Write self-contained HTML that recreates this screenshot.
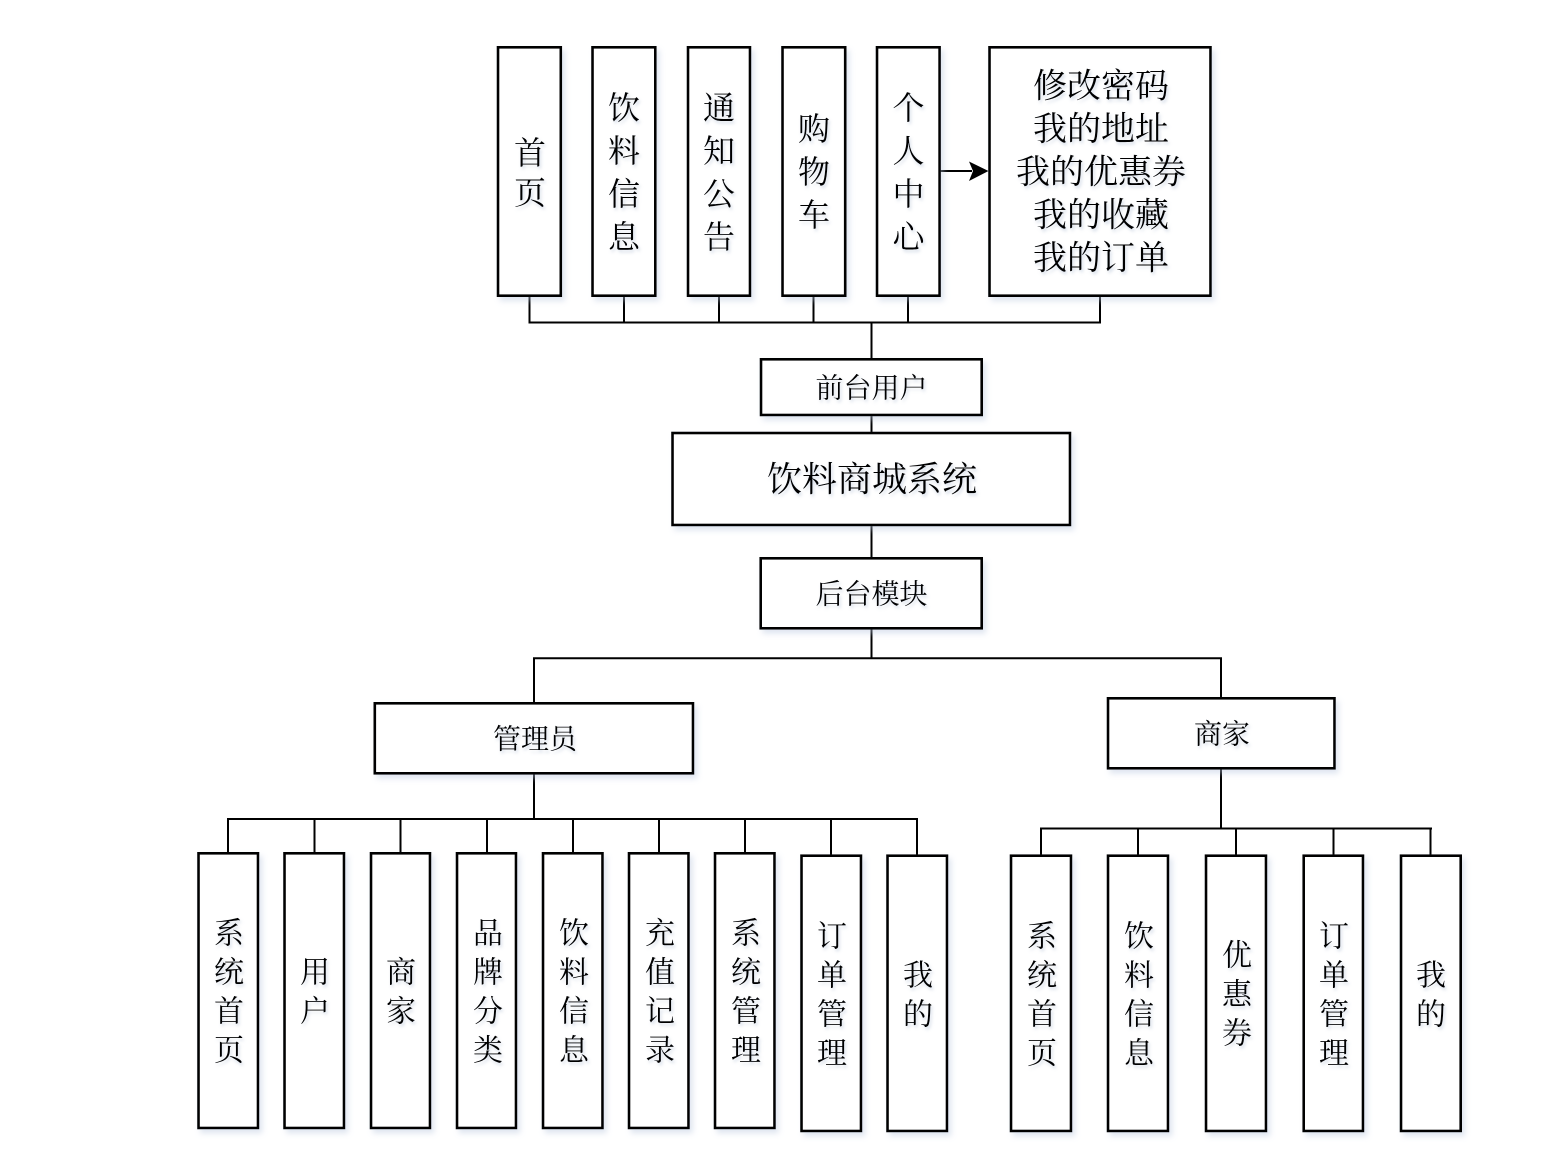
<!DOCTYPE html>
<html>
<head>
<meta charset="utf-8">
<style>
html,body{margin:0;padding:0;background:#fff;}
svg{display:block;}
text{font-family:"Liberation Serif","Noto Serif CJK SC","Noto Sans CJK SC",serif;fill:#000;}
</style>
</head>
<body>
<svg width="1561" height="1161" viewBox="0 0 1561 1161" xmlns="http://www.w3.org/2000/svg">
<defs>
<filter id="sh" x="-20%" y="-20%" width="140%" height="140%">
<feDropShadow dx="3" dy="4" stdDeviation="3" flood-color="#b8c6de" flood-opacity="0.45"/>
</filter>
<filter id="ts" x="-20%" y="-20%" width="140%" height="160%">
<feDropShadow dx="1.5" dy="2.5" stdDeviation="1.5" flood-color="#9fb0cc" flood-opacity="0.45"/>
</filter>
</defs>

<!-- connectors -->
<g stroke="#000" stroke-width="2" fill="none">
<line x1="529.5" y1="295" x2="529.5" y2="323"/>
<line x1="624" y1="295" x2="624" y2="323"/>
<line x1="719" y1="295" x2="719" y2="323"/>
<line x1="813.5" y1="295" x2="813.5" y2="323"/>
<line x1="908" y1="295" x2="908" y2="323"/>
<line x1="1100" y1="295" x2="1100" y2="323"/>
<line x1="528.5" y1="322.5" x2="1101" y2="322.5"/>
<line x1="871.5" y1="322.5" x2="871.5" y2="359"/>
<line x1="871.5" y1="415" x2="871.5" y2="433"/>
<line x1="871.5" y1="525" x2="871.5" y2="558"/>
<line x1="871.5" y1="628" x2="871.5" y2="658"/>
<line x1="533" y1="658.3" x2="1222" y2="658.3"/>
<line x1="534" y1="658" x2="534" y2="703"/>
<line x1="1221" y1="658" x2="1221" y2="698"/>
<line x1="534" y1="773" x2="534" y2="819"/>
<line x1="227" y1="819" x2="918" y2="819"/>
<line x1="228" y1="819" x2="228" y2="853"/>
<line x1="314.5" y1="819" x2="314.5" y2="853"/>
<line x1="400.5" y1="819" x2="400.5" y2="853"/>
<line x1="487" y1="819" x2="487" y2="853"/>
<line x1="573" y1="819" x2="573" y2="853"/>
<line x1="659" y1="819" x2="659" y2="853"/>
<line x1="745" y1="819" x2="745" y2="853"/>
<line x1="831" y1="819" x2="831" y2="856"/>
<line x1="917" y1="819" x2="917" y2="856"/>
<line x1="1221" y1="768" x2="1221" y2="828.5"/>
<line x1="1040" y1="828.5" x2="1432" y2="828.5"/>
<line x1="1041" y1="828" x2="1041" y2="856"/>
<line x1="1138" y1="828" x2="1138" y2="856"/>
<line x1="1236" y1="828" x2="1236" y2="856"/>
<line x1="1333.5" y1="828" x2="1333.5" y2="856"/>
<line x1="1430.5" y1="828" x2="1430.5" y2="856"/>
<line x1="939" y1="171" x2="972" y2="171"/>
</g>
<path d="M988.5,171 L969,161.5 L973,171 L969,181 Z" fill="#000"/>

<!-- boxes -->
<g fill="#fff" stroke="#000" stroke-width="2.6" filter="url(#sh)">
<rect x="498" y="47.3" width="62.8" height="248.4"/>
<rect x="592.5" y="47.3" width="62.8" height="248.4"/>
<rect x="688" y="47.3" width="62" height="248.4"/>
<rect x="782.5" y="47.3" width="62.7" height="248.4"/>
<rect x="877" y="47.3" width="62.6" height="248.4"/>
<rect x="989.5" y="47.3" width="221" height="248.4"/>

<rect x="761" y="359.3" width="220.7" height="55.7"/>
<rect x="672.5" y="433" width="397.5" height="92"/>
<rect x="760.7" y="558.3" width="221" height="70"/>
<rect x="374.8" y="703.3" width="318.2" height="70"/>
<rect x="1108" y="698.3" width="226.5" height="70"/>

<rect x="198.5" y="853.3" width="59.5" height="274.7"/>
<rect x="284.5" y="853.3" width="59.5" height="274.7"/>
<rect x="371" y="853.3" width="59" height="274.7"/>
<rect x="457" y="853.3" width="59" height="274.7"/>
<rect x="543" y="853.3" width="59.5" height="274.7"/>
<rect x="629" y="853.3" width="59.5" height="274.7"/>
<rect x="715" y="853.3" width="59.5" height="274.7"/>
<rect x="801.5" y="855.7" width="59.5" height="275.3"/>
<rect x="887.5" y="855.7" width="59.5" height="275.3"/>

<rect x="1011" y="855.7" width="60" height="275.3"/>
<rect x="1108" y="855.7" width="60" height="275.3"/>
<rect x="1206" y="855.7" width="60" height="275.3"/>
<rect x="1303.7" y="855.7" width="59.3" height="275.3"/>
<rect x="1401" y="855.7" width="59.7" height="275.3"/>
</g>

<!-- text -->
<g text-anchor="middle" dominant-baseline="central" filter="url(#ts)" transform="translate(0,2)">
<g font-size="32">
<text x="530" y="151">首</text><text x="530" y="191">页</text>
<text x="624" y="106">饮</text><text x="624" y="149">料</text><text x="624" y="192">信</text><text x="624" y="235">息</text>
<text x="719" y="106">通</text><text x="719" y="149">知</text><text x="719" y="192">公</text><text x="719" y="235">告</text>
<text x="814" y="127">购</text><text x="814" y="170">物</text><text x="814" y="213">车</text>
<text x="908.5" y="106">个</text><text x="908.5" y="149">人</text><text x="908.5" y="192">中</text><text x="908.5" y="235">心</text>
</g>
<g font-size="34">
<text x="1101" y="85">修改密码</text>
<text x="1101" y="128">我的地址</text>
<text x="1101" y="171">我的优惠券</text>
<text x="1101" y="214">我的收藏</text>
<text x="1101" y="257">我的订单</text>
</g>
<g font-size="28">
<text x="871.5" y="387">前台用户</text>
<text x="871.5" y="593">后台模块</text>
<text x="535" y="738">管理员</text>
<text x="1222" y="733">商家</text>
</g>
<text x="872" y="478" font-size="35">饮料商城系统</text>

<g font-size="30">
<text x="229" y="932">系</text><text x="229" y="971">统</text><text x="229" y="1010">首</text><text x="229" y="1049">页</text>
<text x="315" y="971">用</text><text x="315" y="1010">户</text>
<text x="401" y="971">商</text><text x="401" y="1010">家</text>
<text x="488" y="932">品</text><text x="488" y="971">牌</text><text x="488" y="1010">分</text><text x="488" y="1049">类</text>
<text x="574" y="932">饮</text><text x="574" y="971">料</text><text x="574" y="1010">信</text><text x="574" y="1049">息</text>
<text x="660" y="932">充</text><text x="660" y="971">值</text><text x="660" y="1010">记</text><text x="660" y="1049">录</text>
<text x="746" y="932">系</text><text x="746" y="971">统</text><text x="746" y="1010">管</text><text x="746" y="1049">理</text>
<text x="832" y="935">订</text><text x="832" y="974">单</text><text x="832" y="1013">管</text><text x="832" y="1052">理</text>
<text x="918" y="974">我</text><text x="918" y="1013">的</text>

<text x="1042" y="935">系</text><text x="1042" y="974">统</text><text x="1042" y="1013">首</text><text x="1042" y="1052">页</text>
<text x="1139" y="935">饮</text><text x="1139" y="974">料</text><text x="1139" y="1013">信</text><text x="1139" y="1052">息</text>
<text x="1237" y="954">优</text><text x="1237" y="993">惠</text><text x="1237" y="1032">券</text>
<text x="1334" y="935">订</text><text x="1334" y="974">单</text><text x="1334" y="1013">管</text><text x="1334" y="1052">理</text>
<text x="1431" y="974">我</text><text x="1431" y="1013">的</text>
</g>
</g>
</svg>
</body>
</html>
